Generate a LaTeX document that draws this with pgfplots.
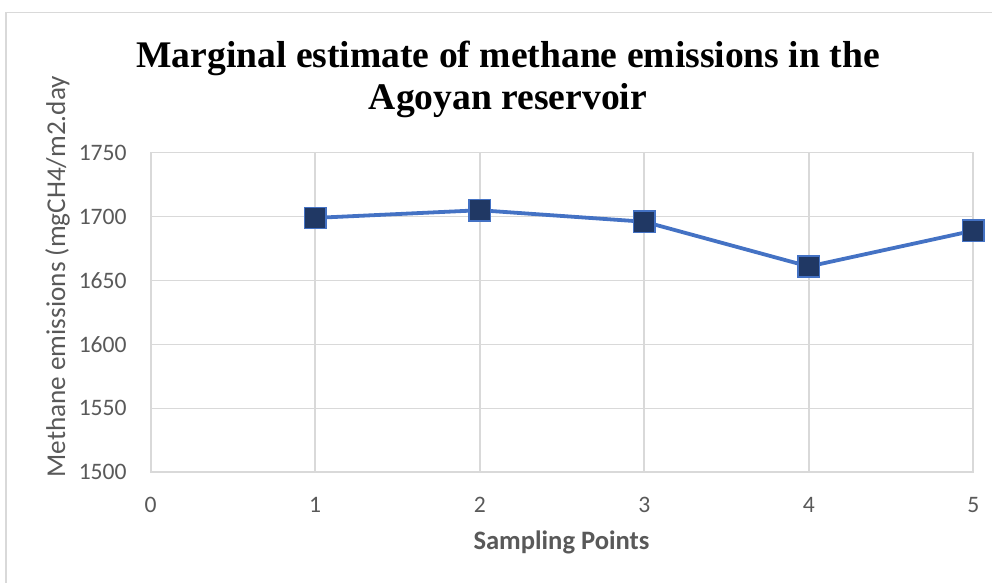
\documentclass[border=0pt]{standalone}
\usepackage{fontspec}
\setmainfont{Carlito}
\newfontfamily\titlefont{Liberation Serif}
\usepackage{pgfplots}
\pgfplotsset{compat=1.18}
\definecolor{gridc}{HTML}{D9D9D9}
\definecolor{txt}{HTML}{595959}
\definecolor{lineblue}{HTML}{4472C4}
\definecolor{navy}{HTML}{203864}
\begin{document}
\begin{tikzpicture}
\useasboundingbox (0,0) rectangle (496pt,291.5pt);
\draw[gridc, line width=0.8pt] (2.9pt,0) -- (2.9pt,285.3pt) -- (496pt,285.3pt);
\begin{axis}[
 at={(75.35pt,55.35pt)}, anchor=south west,
 scale only axis, width=411.3pt, height=159.8pt,
 xmin=0, xmax=5, ymin=1500, ymax=1750,
 xtick={0,1,2,3,4,5}, ytick={1500,1550,1600,1650,1700,1750},
 grid=major, major grid style={gridc, line width=0.8pt},
 axis line style={gridc, line width=0.8pt},
 major tick length=0pt,
 tick label style={font=\fontsize{11.8}{14}\selectfont, text=txt, inner sep=0pt},
 /pgf/number format/assume math mode=true,
 /pgf/number format/1000 sep={},
 yticklabel style={anchor=east, xshift=-11.85pt},
 xticklabel style={anchor=north, yshift=-12.35pt},
 clip=false,
]
\addplot[lineblue, line width=1.9pt, mark=square*, mark size=5.3pt, mark options={fill=navy, draw=lineblue, line width=0.7pt}] coordinates {(1,1699) (2,1705) (3,1696) (4,1661) (5,1689)};
\end{axis}
\node[anchor=base, inner sep=0pt, font=\titlefont\bfseries\fontsize{18.8}{22}\selectfont] at (254pt,257.5pt) {Marginal estimate of methane emissions in the};
\node[anchor=base, inner sep=0pt, font=\titlefont\bfseries\fontsize{18.8}{22}\selectfont] at (254pt,236.5pt) {Agoyan reservoir};
\node[anchor=base, inner sep=0pt, text=txt, font=\bfseries\fontsize{13.3}{16}\selectfont] at (280.75pt,16.5pt) {Sampling Points};
\node[anchor=base west, rotate=90, inner sep=0pt, text=txt, font=\fontsize{13.6}{16}\selectfont] at (32.5pt,52.5pt) {Methane emissions (mgCH4/m2.day};
\end{tikzpicture}
\end{document}
